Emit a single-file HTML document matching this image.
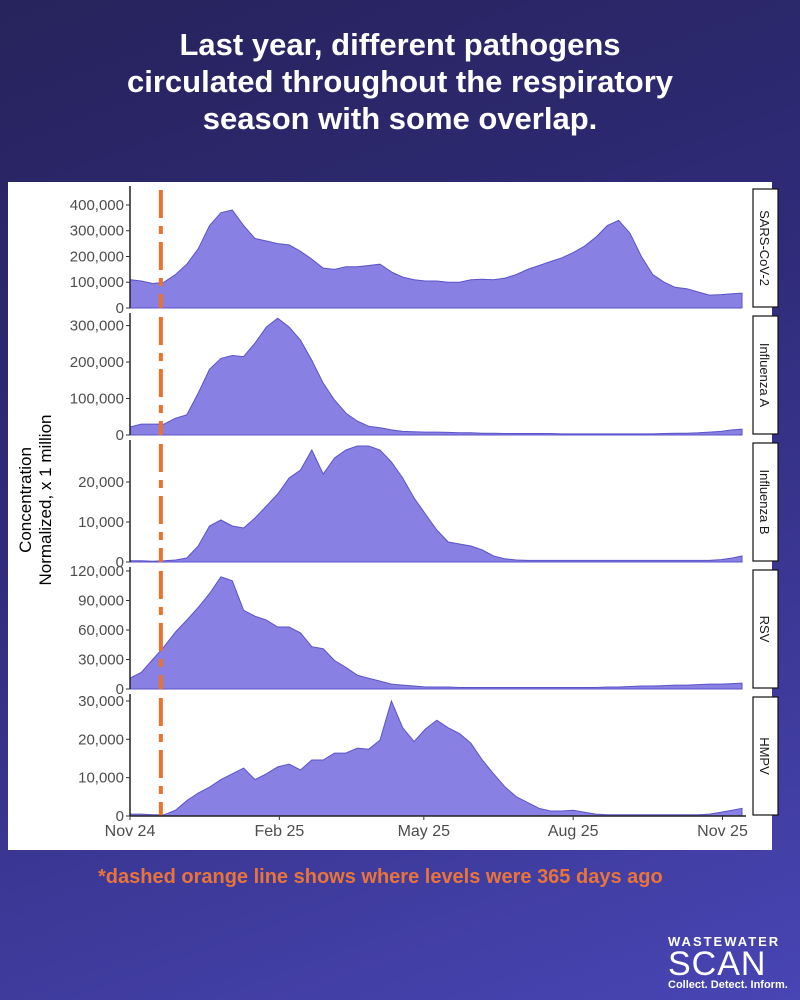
<!DOCTYPE html>
<html><head><meta charset="utf-8">
<style>
html,body{margin:0;padding:0}
body{width:800px;height:1000px;overflow:hidden;background:linear-gradient(160deg,#27235c 0%,#2f2b78 40%,#4845b4 100%);font-family:"Liberation Sans",sans-serif;position:relative}
#title{position:absolute;top:26px;left:0;width:800px;text-align:center;color:#fff;font-weight:bold;font-size:31px;line-height:37px}
#note{position:absolute;top:866px;left:98px;color:#e8743a;font-weight:bold;font-size:20px}
#logo{position:absolute;left:668px;top:934px;color:#fff;text-align:left}
</style></head><body>
<div id="title">Last year, different pathogens<br>circulated throughout the respiratory<br>season with some overlap.</div>
<svg id="chart" width="800" height="1000" style="position:absolute;left:0;top:0">
<rect x="8" y="182" width="764" height="668" fill="#fff"/>
<g id="marks"></g>
<text transform="translate(31,500) rotate(-90)" text-anchor="middle" font-size="17" fill="#000">Concentration</text>
<text transform="translate(51,500) rotate(-90)" text-anchor="middle" font-size="17" fill="#000">Normalized, x 1 million</text>
</svg>
<div id="note">*dashed orange line shows where levels were 365 days ago</div>
<div id="logo">
<div style="font-size:13px;letter-spacing:2px;font-weight:bold">WASTEWATER</div>
<div style="font-size:34px;line-height:30px;letter-spacing:1px">SCAN</div>
<div style="font-size:11px;font-weight:bold">Collect. Detect. Inform.</div>
</div>
<script>
const pathogens=["SARS-CoV-2","Influenza A","Influenza B","RSV","HMPV"];
const weekStepDays=7;
const sarsValues=[110,105,95,100,130,170,230,320,370,380,320,270,260,250,245,220,190,155,150,160,160,165,170,140,120,110,105,105,100,100,110,112,110,116,130,150,165,180,195,215,240,275,320,340,290,200,130,100,80,75,62,50,52,55,58];
const fluAValues=[22,30,30,30,46,55,115,180,210,218,215,252,296,320,296,260,205,142,96,60,38,24,20,14,10,9,8,8,7,6,6,5,5,4,4,4,4,4,3,3,3,3,3,3,3,3,3,4,5,5,6,8,10,14,16];
const fluBValues=[0.3,0.3,0.2,0.3,0.5,1,4,9,10.5,9,8.5,11,14,17,21,23,28,22,26,28,29,29,28,25,21,16,12,8,5,4.5,4,3,1.5,0.8,0.5,0.4,0.4,0.4,0.4,0.4,0.4,0.4,0.4,0.4,0.4,0.4,0.4,0.4,0.4,0.4,0.4,0.4,0.6,1,1.5];
const rsvValues=[11,17,30,43,58,70,83,97,114,110,80,74,70,63,63,57,43,41,29,22,14,11,8,5,4,3,2,2,2,1.5,1.5,1.5,1.5,1.5,1.5,1.5,1.5,1.5,1.5,1.5,1.5,1.5,2,2,2.5,3,3,3.5,4,4,4.5,5,5,5.5,6];
const hmpvValues=[0.5,0.5,0.3,0.3,1.5,4,6,7.5,9.5,11,12.5,9.5,11,12.8,13.5,12,14.6,14.6,16.4,16.4,17.7,17.4,19.8,30,23,19.4,22.7,25,23,21.5,19,14.6,11,7.6,5,3.5,2,1.3,1.3,1.5,1,0.5,0.3,0.3,0.3,0.3,0.3,0.3,0.3,0.3,0.3,0.5,1,1.5,2];
// units: thousands
const seriesList=[sarsValues,fluAValues,fluBValues,rsvValues,hmpvValues];
const yMaxes=[466,329,30,122,31.3];
const tickValues=[[0,100,200,300,400],[0,100,200,300],[0,10,20],[0,30,60,90,120],[0,10,20,30]];
const tickLabels=[["0","100,000","200,000","300,000","400,000"],["0","100,000","200,000","300,000"],["0","10,000","20,000"],["0","30,000","60,000","90,000","120,000"],["0","10,000","20,000","30,000"]];
const xTickDays=[0,92,181,273,365];
const xTickLabels=["Nov 24","Feb 25","May 25","Aug 25","Nov 25"];
const lagDay=19;

const NS="http://www.w3.org/2000/svg";
const g=document.getElementById('marks');
const X0=130,X1=742,DAYMAX=377;
function xScale(d){return X0+(d/DAYMAX)*(X1-X0);}
function panelTop(i){return 188+i*127;}
const PH=120;
function yScale(i,v){return panelTop(i)+PH-(v/yMaxes[i])*PH;}
function mk(tag,attrs){const e=document.createElementNS(NS,tag);for(const k in attrs)e.setAttribute(k,attrs[k]);g.appendChild(e);return e;}

seriesList.forEach((vals,i)=>{
  const base=yScale(i,0);
  let d='M'+xScale(0)+','+base;
  vals.forEach((v,j)=>{const day=Math.min(j*weekStepDays,DAYMAX);d+=' L'+xScale(day).toFixed(1)+','+yScale(i,v).toFixed(1);});
  d+=' L'+xScale(Math.min((vals.length-1)*weekStepDays,DAYMAX))+','+base+' Z';
  const a=mk('path',{d:d,fill:'#8880e2',stroke:'#5b53c9','stroke-width':'1'});
  
  
  const ax=mk('line',{x1:X0,x2:X0,y1:panelTop(i)-2,y2:base,stroke:'#222','stroke-width':'1.5'});
  
  
  tickValues[i].forEach((t,k)=>{
    const y=yScale(i,t);
    const tk=mk('line',{x1:X0-4,x2:X0,y1:y,y2:y,stroke:'#333','stroke-width':'1'});
    
    
    const tx=mk('text',{x:X0-6,y:y+5,'text-anchor':'end','font-size':'15',fill:'#4d4d4d'});
    tx.textContent=tickLabels[i][k];
    
    
  });
  const st=mk('rect',{x:753,y:panelTop(i)+1,width:25,height:PH-2,fill:'#fff',stroke:'#111','stroke-width':'1.2'});
  
  
  const sl=mk('text',{transform:'translate(760,'+(panelTop(i)+PH/2)+') rotate(90)','text-anchor':'middle','font-size':'13',fill:'#1a1a1a'});
  sl.textContent=pathogens[i];
  
  
  const ll=mk('line',{x1:xScale(lagDay),x2:xScale(lagDay),y1:panelTop(i)+2,y2:base,stroke:'#e8722e','stroke-width':'4','stroke-dasharray':'28,8,8,8'});
  
  
});
const xb=yScale(4,0);
const xa=mk('line',{x1:X0,x2:X1+4,y1:xb,y2:xb,stroke:'#222','stroke-width':'1.5'});


xTickDays.forEach((d,k)=>{
  const x=xScale(d);
  const t=mk('line',{x1:x,x2:x,y1:xb,y2:xb+4,stroke:'#333'});
  
  
  const tx=mk('text',{x:x,y:xb+20,'text-anchor':'middle','font-size':'16',fill:'#4d4d4d'});
  tx.textContent=xTickLabels[k];
  
  
});
</script>
</body></html>
